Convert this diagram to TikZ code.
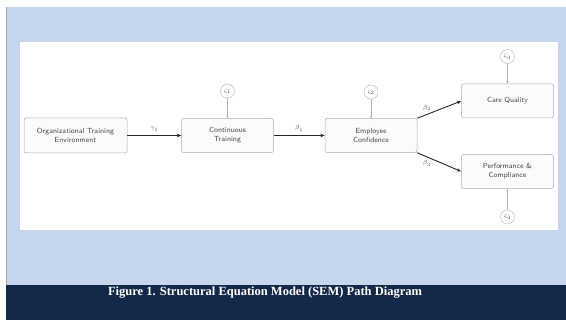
\documentclass[tikz,border=0pt]{standalone}
\usepackage{fontspec}
\setmainfont{Liberation Serif}
\usetikzlibrary{
  arrows.meta,
  positioning, calc
}
\definecolor{pageblue}{RGB}{198,214,236}
\definecolor{bandnavy}{RGB}{20,40,74}
\definecolor{inkgray}{RGB}{70,70,70}
\tikzset{
  semnode/.style={rectangle,rounded corners=2pt,fill=gray!3,draw=gray!65,line width=0.5pt,
    text width=88pt,align=center,minimum height=34pt,inner sep=2pt,
    font=\fontsize{7.4}{9}\selectfont\sffamily,text=inkgray},
  errnode/.style={circle,draw=gray!60,fill=white,line width=0.4pt,minimum size=14pt,inner sep=0pt,
    font=\fontsize{4.5}{5}\selectfont,text=inkgray},
  arr/.style={-{Stealth[length=4.5pt,width=3.5pt]},line width=0.9pt,draw=gray!30!black},
  errarr/.style={-{Stealth[length=2.5pt,width=2pt]},line width=0.4pt,draw=gray!60},
  pathlbl/.style={font=\fontsize{6}{6}\selectfont,text=inkgray,inner sep=1pt}
}
\begin{document}
\begin{tikzpicture}[x=1pt,y=-1pt,node distance=20pt and 52pt]
  \useasboundingbox (0,0) rectangle (566,321);

  % Background
  \fill[pageblue] (6,7) rectangle (566,285);
  \fill[bandnavy] (6,285) rectangle (566,320);
  \draw[gray!70,line width=0.6pt] (6.3,7) -- (6.3,285);
  \fill[white] (20,42) rectangle (558,230);

  \node[semnode,minimum height=35pt,text width=99pt] (org) at (75.5,135.5) {Organizational Training\\Environment};
  \node[semnode,right=54pt of org] (train) {Continuous\\Training};
  \node[semnode,right=51pt of train] (conf) {Employee\\Confidence};
  \node[semnode] (care) at (507.5,101) {Care Quality};
  \node[semnode] (perf) at (507.5,171.5) {Performance \&\\Compliance};

  \node[errnode,above=20pt of train] (z1) {$\zeta_1$};
  \node[errnode,above=19pt of conf] (z2) {$\zeta_2$};
  \node[errnode,above=20pt of care] (z3) {$\zeta_3$};
  \node[errnode,below=21pt of perf] (z4) {$\zeta_4$};

  \draw[arr] (org)--node[pathlbl,above=3pt]{$\gamma_1$}(train);
  \draw[arr] (train)--node[pathlbl,above=3pt]{$\beta_1$}(conf);
  \draw[arr] (conf.north east)--node[pathlbl,above left=1pt and -2pt,pos=0.3]{$\beta_2$}(care.west);
  \draw[arr] (conf.south east)--node[pathlbl,below left=1pt and -2pt,pos=0.3]{$\beta_3$}(perf.west);

  \draw[errarr] (z1)--(train);
  \draw[errarr] (z2)--(conf);
  \draw[errarr] (z3)--(care);
  \draw[errarr] (z4)--(perf);

  % Caption
  \node[font=\fontsize{12.5}{14}\selectfont\bfseries,text=white] (cap) at (265,293)
    {Figure 1. Structural Equation Model (SEM) Path Diagram};

\end{tikzpicture}
\end{document}
